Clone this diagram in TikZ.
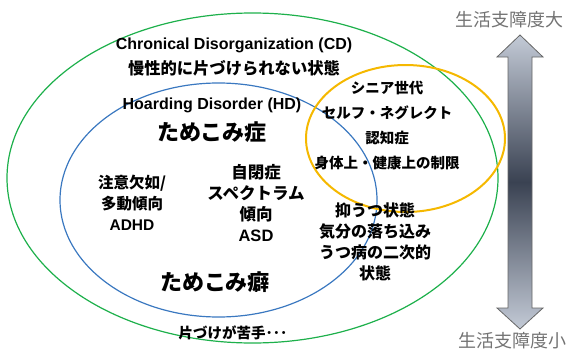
\documentclass[tikz,border=0pt]{standalone}
\usepackage{fontspec}
\setmainfont{Liberation Sans}
\newfontfamily\jp{Noto Sans CJK JP}[BoldFont={Noto Sans CJK JP Black}]
\newfontfamily\jpreg{Noto Sans CJK JP}
\usetikzlibrary{shapes.geometric}
\definecolor{cdgreen}{HTML}{1DB04B}
\definecolor{hdblue}{HTML}{3A78C0}
\definecolor{sorange}{HTML}{F5B800}
\definecolor{arrlight}{HTML}{C3CAD6}
\definecolor{arrdark}{HTML}{3A4252}
\tikzset{
  lbl/.style={inner sep=0pt, align=center, text=black, font=\bfseries},
  side/.style={inner sep=0pt, text=black!55, font=\jpreg\fontsize{18}{18}\selectfont},
}
\begin{document}
\begin{tikzpicture}[x=1pt,y=-1pt]
\useasboundingbox (0,0) rectangle (566,351);
% ellipses
\draw[cdgreen, line width=1.2pt] (252.5,178) ellipse [x radius=245.5, y radius=165];
\draw[hdblue, line width=1.2pt] (218.5,200) ellipse [x radius=158.5, y radius=117];
\draw[sorange, line width=2pt] (405.5,138.5) ellipse [x radius=99.5, y radius=73.5];
% arrow
\draw[black!60, line width=0.8pt, top color=arrlight, bottom color=arrlight, middle color=arrdark]
  (520,35) -- (543,57) -- (532,57) -- (532,308) -- (543,308) -- (520,329)
  -- (497,308) -- (508,308) -- (508,57) -- (497,57) -- cycle;
\node[side] (top) at (509,20) {生活支障度大};
\node[side] (bot) at (512,341) {生活支障度小};
% texts
\node[lbl, font=\bfseries\fontsize{16}{16}\selectfont] (cd) at (234,45) {Chronical Disorganization (CD)};
\node[lbl, font=\jp\bfseries\fontsize{16.3}{16}\selectfont] (cdjp) at (234,68) {慢性的に片づけられない状態};
\node[lbl, font=\bfseries\fontsize{16}{16}\selectfont] (hd) at (212,105) {Hoarding Disorder (HD)};
\node[lbl, font=\jp\bfseries\fontsize{22}{22}\selectfont] (hdjp) at (212,132) {ためこみ症};
\node[lbl, font=\jp\bfseries\fontsize{14.5}{25.2}\selectfont] (senior) at (387,125.5)
  {シニア世代\\セルフ・ネグレクト\\認知症\\身体上・健康上の制限};
\node[lbl, font=\jp\bfseries\fontsize{15.5}{21}\selectfont] (adhd) at (132,203)
  {注意欠如/\\多動傾向\\{\rmfamily\bfseries ADHD}};
\node[lbl, font=\jp\bfseries\fontsize{16.5}{20.7}\selectfont] (asd) at (256,203)
  {自閉症\\スペクトラム\\傾向\\{\rmfamily\bfseries ASD}};
\node[lbl, font=\jp\bfseries\fontsize{16}{21}\selectfont] (dep) at (375,241.5)
  {抑うつ状態\\気分の落ち込み\\うつ病の二次的\\状態};
\node[lbl, font=\jp\bfseries\fontsize{22}{22}\selectfont] (habit) at (215,282) {ためこみ癖};
\node[lbl, font=\jp\bfseries\fontsize{14.5}{14}\selectfont] (poor) at (233,333) {片づけが苦手･･･};
\end{tikzpicture}
\end{document}
